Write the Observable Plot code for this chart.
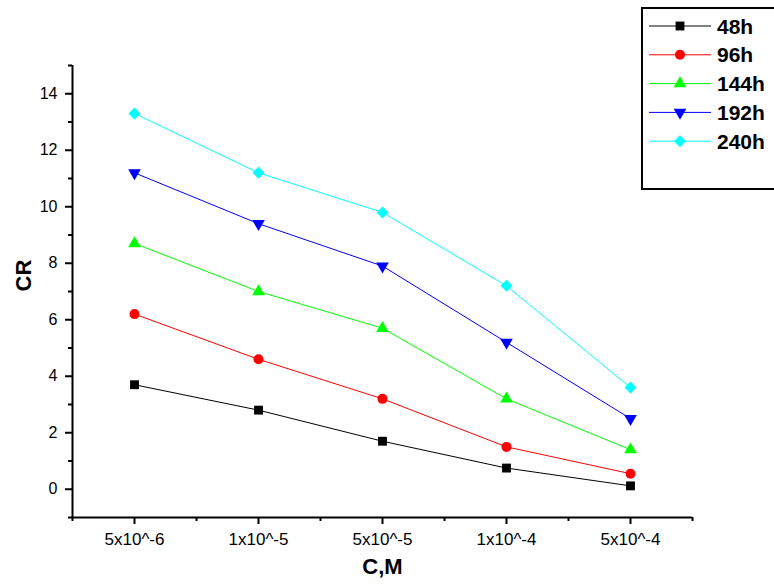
<!DOCTYPE html>
<html>
<head>
<meta charset="utf-8">
<script src="https://cdn.jsdelivr.net/npm/d3@7"></script>
<script src="https://cdn.jsdelivr.net/npm/@observablehq/plot@0.6"></script>
<style>
  body { margin: 0; background: #fff; font-family: "Liberation Sans", Arial, sans-serif; }
  #wrap { position: relative; width: 774px; height: 588px; overflow: hidden; }
  #legend { position: absolute; left: 641px; top: 7px; width: 160px; height: 183px; border: 2px solid #000; background: #fff; box-sizing: border-box; }
</style>
</head>
<body>
<div id="wrap"><div id="legend"></div></div>
<script>
const categories = ["5x10^-6", "1x10^-5", "5x10^-5", "1x10^-4", "5x10^-4"];
const seriesNames = ["48h", "96h", "144h", "192h", "240h"];
const cr48 = [3.7, 2.8, 1.7, 0.75, 0.12];
const cr96 = [6.2, 4.6, 3.2, 1.5, 0.55];
const cr144 = [8.7, 7.0, 5.7, 3.2, 1.4];
const cr192 = [11.2, 9.4, 7.9, 5.2, 2.5];
const cr240 = [13.3, 11.2, 9.8, 7.2, 3.6];
const yMajorTicks = [0, 2, 4, 6, 8, 10, 12, 14];
const yMinorTicks = [-1, 1, 3, 5, 7, 9, 11, 13, 15];

const seriesValues = [cr48, cr96, cr144, cr192, cr240];
const colors = ["#000000", "#ff0000", "#00ff00", "#0000ff", "#00ffff"];
const symbols = ["square", "circle", "triangle", "triangle", "diamond2"];
const rotations = [0, 0, 0, 180, 0];
const radii = [5, 5, 4.7, 4.7, 5.4];
const d3symbols = [d3.symbolSquare, d3.symbolCircle, d3.symbolTriangle, d3.symbolTriangle, d3.symbolDiamond2];

const xPos = categories.map((c, i) => i + 1);
const xMinor = [0.5, 1.5, 2.5, 3.5, 4.5, 5.5];

const marks = [];
seriesValues.forEach((vals, s) => {
  const data = vals.map((v, i) => ({x: xPos[i], y: v, series: seriesNames[s]}));
  marks.push(Plot.line(data, {x: "x", y: "y", stroke: colors[s], strokeWidth: 1}));
  marks.push(Plot.dot(data, {x: "x", y: "y", fill: colors[s], stroke: "none", symbol: symbols[s], r: radii[s], rotate: rotations[s]}));
});

const chart = Plot.plot({
  width: 774,
  height: 588,
  marginLeft: 72,
  marginRight: 82,
  marginTop: 65,
  marginBottom: 71,
  style: {fontFamily: "'Liberation Sans', Arial, sans-serif", background: "#fff", color: "#000"},
  x: {type: "linear", domain: [0.5, 5.5]},
  y: {domain: [-1, 15]},
  marks: [
    Plot.axisX({ticks: xPos, tickSize: 7, tickPadding: 8, tickFormat: d => categories[d - 1], fontSize: 17, label: null, strokeWidth: 2}),
    Plot.axisX({ticks: xMinor, tickSize: 4, tickFormat: () => "", label: null, strokeWidth: 2}),
    Plot.axisY({ticks: yMajorTicks, tickSize: 7, tickPadding: 8, fontSize: 16, label: null, strokeWidth: 2}),
    Plot.axisY({ticks: yMinorTicks, tickSize: 4, tickFormat: () => "", label: null, strokeWidth: 2}),
    Plot.ruleX([0.5], {stroke: "#000", strokeWidth: 2}),
    Plot.ruleY([-1], {stroke: "#000", strokeWidth: 2}),
    Plot.text(["C,M"], {frameAnchor: "bottom", dy: 56, text: d => d, fontSize: 22, fontWeight: "bold"}),
    Plot.text(["CR"], {frameAnchor: "left", dx: -49, rotate: -90, text: d => d, fontSize: 22, fontWeight: "bold"}),
    ...marks
  ]
});
document.getElementById("wrap").insertBefore(chart, document.getElementById("legend"));

// Legend
const leg = d3.select("#legend");
const svg = leg.append("svg").attr("width", 160).attr("height", 183).style("display", "block");
seriesNames.forEach((name, i) => {
  const g = svg.append("g").attr("transform", `translate(0, ${17 + i * 28.8})`);
  g.append("line").attr("x1", 6).attr("x2", 68).attr("y1", 0).attr("y2", 0).attr("stroke", colors[i]).attr("stroke-width", 1);
  const sz = Math.PI * radii[i] * radii[i];
  g.append("path").attr("d", d3.symbol(d3symbols[i], sz)()).attr("fill", colors[i])
    .attr("transform", `translate(37,0) rotate(${rotations[i]})`);
  g.append("text").attr("x", 74).attr("y", 0).attr("dy", "0.36em").text(name)
    .style("font-family", "'Liberation Sans', Arial, sans-serif").style("font-weight", "bold").style("font-size", "21px");
});
</script>
</body>
</html>
